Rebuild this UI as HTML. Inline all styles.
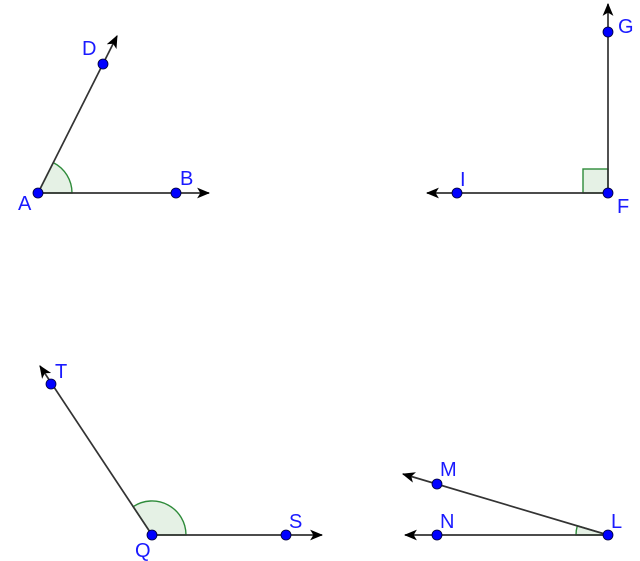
<!DOCTYPE html>
<html><head><meta charset="utf-8"><style>
html,body{margin:0;padding:0;background:#fff;}
svg{display:block;}
</style></head><body>
<svg width="640" height="561" viewBox="0 0 640 561" xmlns="http://www.w3.org/2000/svg">
<defs>
<marker id="ar" viewBox="0 0 12 10" refX="11" refY="5" markerWidth="13" markerHeight="11" markerUnits="userSpaceOnUse" orient="auto">
<path d="M0,0 L12,5 L0,10 L3,5 Z" fill="#000"/>
</marker>
</defs>
<g fill="#dfeedf" fill-opacity="0.8" stroke="#2e8b3a" stroke-width="1.4">
<path d="M38,193 L72,193 A34,34 0 0 0 53.3,162.6 Z"/>
<rect x="583" y="169" width="25" height="24"/>
<path d="M152,535 L186,535 A34,34 0 0 0 133.1,506.7 Z"/>
<path d="M608,535 L576,535 A32,32 0 0 1 577.3,525.8 Z"/>
</g>
<g stroke="#333" stroke-width="1.7" fill="none" marker-end="url(#ar)">
<line x1="38" y1="193" x2="117" y2="36"/>
<line x1="38" y1="193" x2="209" y2="193"/>
<line x1="608" y1="193" x2="608" y2="4"/>
<line x1="608" y1="193" x2="427" y2="193"/>
<line x1="152" y1="535" x2="40" y2="366"/>
<line x1="152" y1="535" x2="322" y2="535"/>
<line x1="608" y1="535" x2="403" y2="474"/>
<line x1="608" y1="535" x2="405" y2="535"/>
</g>
<g fill="#0000ff" stroke="#000033" stroke-width="0.8">
<circle cx="38" cy="193" r="5"/>
<circle cx="103" cy="64" r="5"/>
<circle cx="176" cy="193" r="5"/>
<circle cx="608" cy="193" r="5"/>
<circle cx="608" cy="32" r="5"/>
<circle cx="457" cy="193" r="5"/>
<circle cx="152" cy="535" r="5"/>
<circle cx="51" cy="384" r="5"/>
<circle cx="286" cy="535" r="5"/>
<circle cx="608" cy="535" r="5"/>
<circle cx="437" cy="484" r="5"/>
<circle cx="437" cy="535" r="5"/>
</g>
<g font-family="Liberation Sans, sans-serif" font-size="20" fill="#1a1aff">
<text x="18" y="210">A</text>
<text x="82" y="55">D</text>
<text x="180" y="185">B</text>
<text x="618" y="33">G</text>
<text x="617" y="213">F</text>
<text x="460" y="186">I</text>
<text x="55" y="378">T</text>
<text x="135" y="557">Q</text>
<text x="289" y="528">S</text>
<text x="440" y="476">M</text>
<text x="440" y="528">N</text>
<text x="611" y="528">L</text>
</g>
</svg>
</body></html>
